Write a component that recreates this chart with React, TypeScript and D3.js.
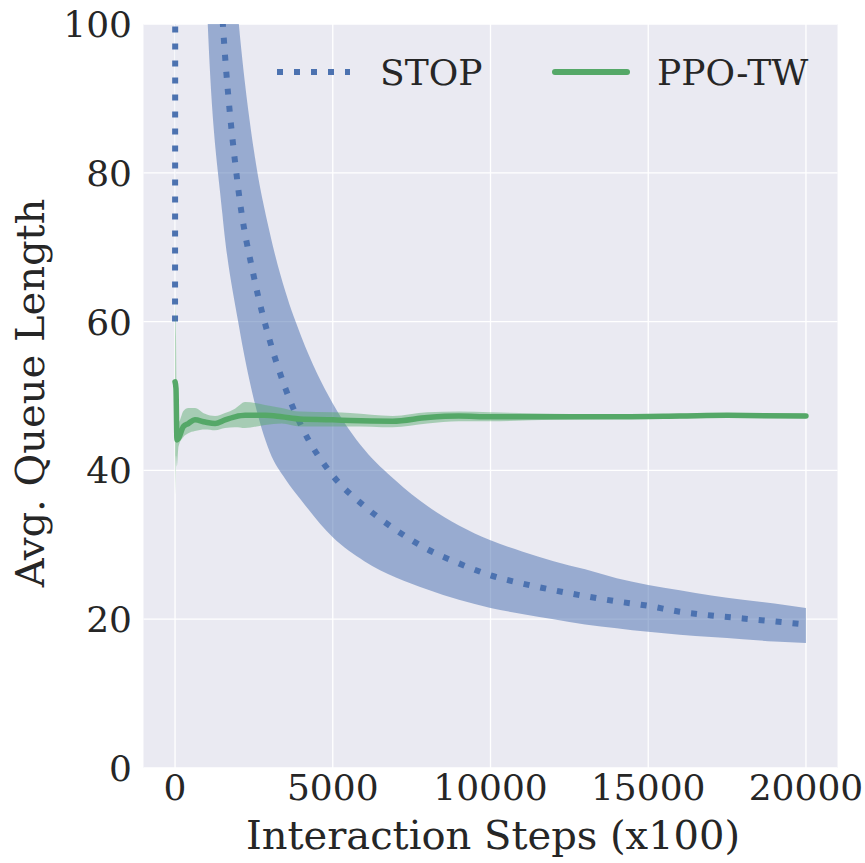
import React from "react";
import * as d3 from "d3";

// ---- data ----
const stopSteps = [0, 100, 500, 1000, 1500, 2000, 2500, 3000, 3500, 4000, 5000, 6000, 7000, 8000, 9000, 10000, 11000, 12000, 13000, 14000, 15000, 16000, 17000, 18000, 19000, 20000];
const stopMean = [60, 600, 280, 145, 101, 78, 66, 57.5, 51, 46, 39.3, 35.2, 32, 29.4, 27.5, 25.9, 24.8, 23.9, 23.1, 22.4, 21.8, 21.0, 20.5, 20.1, 19.7, 19.3];
const stopLower = [58, 400, 190, 104, 74.5, 60, 49.5, 42.5, 38.8, 36, 31, 27.8, 25.6, 24.0, 22.6, 21.5, 20.7, 20.0, 19.3, 18.8, 18.3, 17.9, 17.6, 17.3, 17.0, 16.8];
const stopUpper = [62, 1500, 400, 190, 130, 101, 83, 72, 64, 58, 49, 42.8, 38.6, 35.2, 32.6, 30.6, 29.1, 27.8, 26.7, 25.5, 24.6, 23.9, 23.2, 22.6, 22.1, 21.5];

const ppoSteps = [0, 30, 60, 110, 265, 420, 630, 950, 1270, 1585, 1900, 2220, 2850, 3380, 3960, 5000, 5550, 6900, 8000, 9000, 10000, 12000, 14000, 16000, 17500, 20000];
const ppoMean = [51.9, 51, 44.1, 44.3, 45.9, 46.3, 46.8, 46.5, 46.3, 46.8, 47.2, 47.4, 47.4, 47.2, 46.9, 46.8, 46.7, 46.6, 47.1, 47.3, 47.2, 47.2, 47.2, 47.3, 47.4, 47.3];
const ppoLower = [36, 42, 40.5, 43.2, 44.5, 45.0, 45.3, 45.5, 45.4, 45.7, 45.8, 45.7, 46.1, 46.3, 45.9, 45.9, 45.9, 45.8, 46.3, 46.6, 46.6, 46.8, 46.9, 47.0, 47.1, 47.0];
const ppoUpper = [63, 58, 47.5, 46.5, 48.0, 48.4, 48.4, 47.6, 47.3, 47.7, 48.3, 49.2, 48.8, 48.4, 47.9, 47.8, 47.7, 47.3, 47.8, 47.9, 47.8, 47.6, 47.5, 47.6, 47.7, 47.6];

const xTicks = [0, 5000, 10000, 15000, 20000];
const yTicks = [0, 20, 40, 60, 80, 100];
const seriesNames = ["STOP", "PPO-TW"];
const xLabel = "Interaction Steps (x100)";
const yLabel = "Avg. Queue Length";

const BLUE = "#4C72B0";
const GREEN = "#55A868";
const FONT = "'DejaVu Serif', serif";

export default function App() {
  const W = 865, H = 863;
  const left = 143.5, right = 837.5, top = 24, bottom = 768;
  const x = d3.scaleLinear().domain([-1000, 21000]).range([left, right]);
  const y = d3.scaleLinear().domain([0, 100]).range([bottom, top]);

  const stop = stopSteps.map((s, i) => ({ s, m: stopMean[i], lo: stopLower[i], hi: stopUpper[i] }));
  const ppo = ppoSteps.map((s, i) => ({ s, m: ppoMean[i], lo: ppoLower[i], hi: ppoUpper[i] }));

  type P = { s: number; m: number; lo: number; hi: number };
  const area = d3.area<P>().x(d => x(d.s)).y0(d => y(d.lo)).y1(d => y(d.hi)).curve(d3.curveMonotoneX);
  const line = d3.line<P>().x(d => x(d.s)).y(d => y(d.m)).curve(d3.curveMonotoneX);

  return (
    <svg width={W} height={H} style={{ position: "absolute", left: 0, top: 0, background: "#fff" }} fontFamily={FONT}>
      <defs>
        <clipPath id="plotclip">
          <rect x={left} y={top} width={right - left} height={bottom - top} />
        </clipPath>
      </defs>
      <rect x={left} y={top} width={right - left} height={bottom - top} fill="#EAEAF2" />
      {xTicks.map(t => (
        <line key={"gx" + t} x1={x(t)} x2={x(t)} y1={top} y2={bottom} stroke="#fff" strokeWidth={1.3} />
      ))}
      {yTicks.map(t => (
        <line key={"gy" + t} x1={left} x2={right} y1={y(t)} y2={y(t)} stroke="#fff" strokeWidth={1.3} />
      ))}
      <g clipPath="url(#plotclip)">
        <path d={area(stop) || ""} fill={BLUE} fillOpacity={0.52} stroke="none" />
        <path d={line(stop) || ""} fill="none" stroke={BLUE} strokeWidth={6} strokeDasharray="6 11" />
        <path d={area(ppo) || ""} fill={GREEN} fillOpacity={0.45} stroke="none" />
        <path d={line(ppo) || ""} fill="none" stroke={GREEN} strokeWidth={5.5} strokeLinejoin="round" strokeLinecap="round" />
      </g>
      {yTicks.map(t => (
        <text key={"ty" + t} x={132} y={y(t)} dy="0.36em" textAnchor="end" fontSize={36} fill="#262626">{t}</text>
      ))}
      {xTicks.map(t => (
        <text key={"tx" + t} x={x(t)} y={800} textAnchor="middle" fontSize={36} fill="#262626">{t}</text>
      ))}
      <text x={493} y={849} textAnchor="middle" fontSize={40} fill="#262626">{xLabel}</text>
      <text transform={`translate(44,393) rotate(-90)`} textAnchor="middle" fontSize={40} fill="#262626">{yLabel}</text>
      {/* legend */}
      <line x1={277} x2={350} y1={72} y2={72} stroke={BLUE} strokeWidth={6} strokeDasharray="6 11" />
      <text x={380} y={72} dy="0.36em" fontSize={36} fill="#262626">{seriesNames[0]}</text>
      <line x1={555} x2={627} y1={72} y2={72} stroke={GREEN} strokeWidth={6} strokeLinecap="round" />
      <text x={657} y={72} dy="0.36em" fontSize={36} fill="#262626">{seriesNames[1]}</text>
    </svg>
  );
}
